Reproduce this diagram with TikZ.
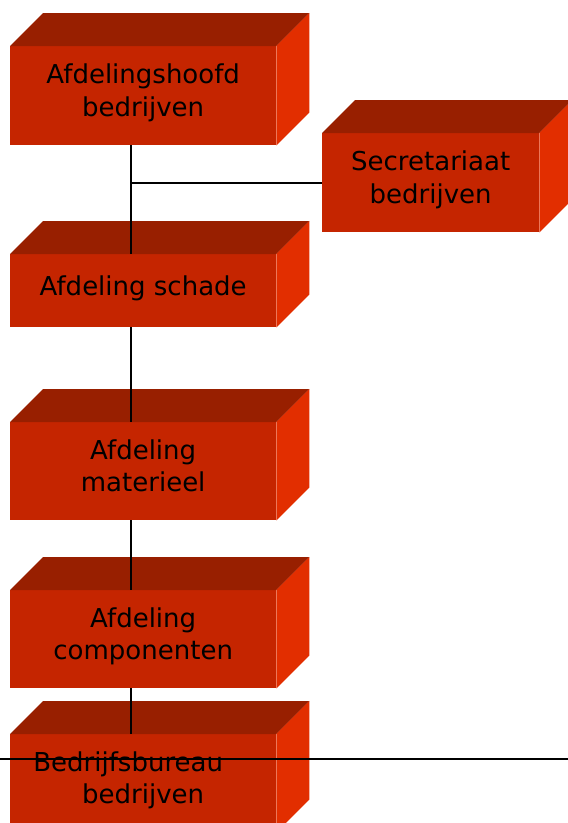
\documentclass[tikz,border=0pt]{standalone}
\usepackage{fontspec}
\setmainfont{DejaVu Sans}
\definecolor{brickfront}{RGB}{197,37,0}
\definecolor{bricktop}{RGB}{152,31,0}
\definecolor{brickside}{RGB}{226,46,0}
\tikzset{
  brick/.style={fill=brickfront, draw=none, inner sep=0pt, anchor=north west,
    text=black, align=center, font=\fontsize{26}{32.5}\selectfont,
    execute at end node={\rule[-11pt]{0pt}{11pt}}},
  link/.style={draw=black, line width=1.6pt},
}
% top and right faces of a brick whose front face is node #1
\newcommand{\brickfaces}[1]{%
  \fill[bricktop] (#1.north west) -- ++(33,-33) -- ([xshift=33pt,yshift=33pt]#1.north east) -- (#1.north east) -- cycle;
  \fill[brickside] (#1.north east) -- ++(33,-33) -- ([xshift=33pt,yshift=33pt]#1.south east) -- (#1.south east) -- cycle;
}
\begin{document}
\begin{tikzpicture}[x=1pt,y=-1pt]
\useasboundingbox (0,0) rectangle (568,823);
\clip (0,0) rectangle (568,823);

\node[brick, minimum width=266pt, minimum height=99pt] (hoofd) at (10,46) {Afdelingshoofd\\bedrijven};
\node[brick, minimum width=217pt, minimum height=99pt] (secr) at (322,133) {Secretariaat\\bedrijven};
\node[brick, minimum width=266pt, minimum height=73pt] (schade) at (10,254) {Afdeling schade};
\node[brick, minimum width=266pt, minimum height=98pt] (materieel) at (10,422) {Afdeling\\materieel};
\node[brick, minimum width=266pt, minimum height=98pt] (comp) at (10,590) {Afdeling\\componenten};
\node[brick, minimum width=266pt, minimum height=98pt] (bureau) at (10,734) {Bedrijfsbureau\hspace*{30pt}\\bedrijven};

\brickfaces{hoofd}
\brickfaces{secr}
\brickfaces{schade}
\brickfaces{materieel}
\brickfaces{comp}
\brickfaces{bureau}

\coordinate (tee) at (131,183);
\coordinate (rulewest) at (0,759);
\coordinate (ruleeast) at (568,759);

\draw[link] (hoofd.south west -| tee) -- (schade.north west -| tee);
\draw[link] (tee) -- (tee -| secr.west);
\draw[link] (schade.south west -| tee) -- (materieel.north west -| tee);
\draw[link] (materieel.south west -| tee) -- (comp.north west -| tee);
\draw[link] (comp.south west -| tee) -- (bureau.north west -| tee);
\draw[link] (rulewest) -- (ruleeast);
\end{tikzpicture}
\end{document}
